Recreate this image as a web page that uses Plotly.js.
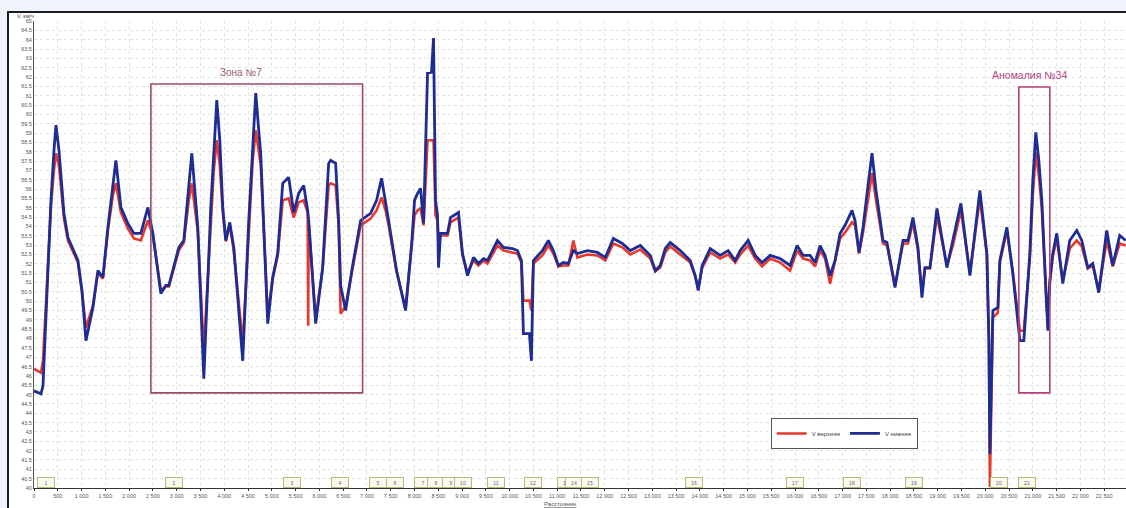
<!DOCTYPE html>
<html>
<head>
<meta charset="utf-8">
<script src="https://cdn.plot.ly/plotly-3.0.1.min.js"></script>
<style>
  html, body { margin:0; padding:0; width:1126px; height:508px; overflow:hidden; background:#eef4fa; }
  #frame { position:absolute; left:7px; top:11px; width:1119px; height:497px; background:#ffffff;
           border-left:2px solid #1a1a1a; border-top:2px solid #1a1a1a; }
  #chart { position:absolute; left:0; top:0; width:1118px; height:495px; }
</style>
</head>
<body>
<div id="frame"><div id="chart"></div></div>
<script>
// distance along route
const distance = [0,147,189,252,357,420,462,525,630,714,840,924,1008,1092,1239,1344,1449,1554,1659,1722,1827,1974,2100,2247,2394,2499,2667,2772,2835,2940,3045,3150,3255,3318,3444,3570,3717,3780,3843,3906,3969,4032,4116,4200,4389,4515,4599,4662,4725,4767,4914,5019,5124,5229,5355,5460,5565,5670,5754,5765,5775,5922,6069,6195,6237,6342,6405,6447,6552,6699,6867,7077,7203,7308,7392,7455,7623,7812,7938,8001,8064,8127,8190,8232,8274,8358,8400,8442,8484,8505,8547,8694,8757,8925,9009,9114,9240,9345,9450,9534,9744,9870,10059,10164,10248,10290,10416,10458,10500,10689,10815,10920,11025,11130,11235,11340,11424,11634,11844,12012,12180,12369,12537,12747,12957,13062,13167,13272,13377,13587,13797,13902,13965,14049,14217,14427,14595,14742,14847,15015,15162,15309,15477,15687,15897,16044,16170,16317,16422,16527,16632,16737,16842,16947,17052,17199,17262,17346,17430,17535,17619,17703,17850,17934,18102,18270,18375,18480,18585,18669,18732,18837,18984,19194,19320,19488,19677,19887,20034,20076,20097,20160,20265,20307,20454,20580,20727,20811,20937,21000,21063,21126,21189,21294,21315,21357,21420,21504,21630,21777,21924,22029,22155,22260,22386,22554,22680,22827,22953];

// V нижняя (blue)
const vLower = [45.20,45.04,45.47,49.50,55.40,58.08,59.42,58.08,54.70,53.41,52.71,52.18,50.57,47.89,49.66,51.64,51.27,53.95,56.20,57.54,55.02,54.16,53.63,53.63,55.02,53.63,50.41,50.84,50.84,51.80,52.88,53.25,55.93,57.92,53.95,45.85,55.02,58.08,60.76,58.62,55.02,53.25,54.22,52.88,46.81,54.32,58.62,61.14,59.15,57.92,48.80,51.27,52.55,56.31,56.63,54.75,55.77,56.20,54.86,54.59,54.32,48.80,51.80,57.38,57.54,57.38,54.32,50.84,49.50,51.91,54.32,54.70,55.40,56.58,55.13,54.32,51.64,49.50,52.98,55.40,55.77,56.04,54.16,58.08,62.21,62.26,64.09,55.40,54.59,51.80,53.63,53.63,54.48,54.75,52.55,51.37,52.34,52.02,52.28,52.18,53.25,52.88,52.82,52.71,52.18,48.26,48.26,46.81,52.18,52.71,53.25,52.71,51.91,52.07,52.02,52.71,52.55,52.71,52.61,52.34,53.36,53.09,52.71,52.98,52.45,51.64,51.91,52.82,53.14,52.71,52.18,51.37,50.57,51.91,52.82,52.45,52.71,52.18,52.71,53.25,52.45,52.07,52.45,52.28,51.91,52.98,52.45,52.45,52.07,52.98,52.45,51.37,52.18,53.63,54.06,54.86,54.32,52.61,53.95,56.20,57.92,55.93,53.25,53.14,50.73,53.25,53.25,54.48,52.88,50.19,51.80,51.80,54.97,51.80,53.25,55.24,51.37,55.93,52.55,47.89,41.82,49.50,49.66,52.18,53.95,51.48,47.89,47.89,52.55,56.47,59.04,57.54,55.40,49.33,48.42,51.10,52.55,53.63,50.94,53.25,53.79,53.25,51.80,52.02,50.46,53.79,51.91,53.52,53.25];

// V верхняя (red)
const vUpper = [46.38,46.17,46.81,50.03,55.13,57.01,57.92,57.27,54.43,53.25,52.55,52.07,50.52,48.58,49.76,51.53,51.21,53.79,55.67,56.31,54.75,53.89,53.36,53.25,54.32,53.52,50.57,50.79,50.79,51.75,52.71,53.14,55.40,56.31,53.68,47.35,54.59,57.01,58.62,57.27,54.75,53.20,54.06,52.71,47.72,54.06,57.54,59.15,58.08,57.27,49.33,51.21,52.45,55.40,55.50,54.48,55.29,55.40,54.75,48.69,54.22,49.07,51.75,56.20,56.31,56.20,54.06,49.33,49.76,51.86,54.06,54.43,54.86,55.56,54.86,54.06,51.59,49.60,52.82,54.59,54.86,54.97,54.06,56.47,58.62,58.62,58.62,54.59,54.32,53.25,53.52,53.52,54.22,54.48,52.45,51.53,52.18,51.91,52.18,52.02,52.98,52.71,52.61,52.55,52.07,50.03,50.03,49.50,52.02,52.45,52.98,52.55,51.86,51.91,51.91,53.25,52.34,52.50,52.45,52.18,53.09,52.88,52.50,52.77,52.28,51.59,51.80,52.61,52.93,52.50,52.07,51.32,50.68,51.80,52.61,52.28,52.50,52.07,52.50,52.98,52.28,51.86,52.28,52.07,51.64,52.71,52.28,52.18,51.86,52.71,52.28,50.94,52.07,53.36,53.68,54.22,54.06,52.55,53.68,55.40,56.85,55.40,53.09,52.98,50.84,53.09,53.09,54.22,52.71,50.41,51.75,51.75,54.59,51.91,52.98,54.86,51.53,55.50,52.45,47.89,40.05,49.12,49.39,52.07,53.79,51.53,48.42,48.42,52.28,55.67,57.97,56.74,54.97,49.50,49.39,50.94,52.39,53.36,51.10,52.82,53.25,52.93,51.75,51.91,50.57,53.25,51.86,53.09,52.98];

// event markers along the route
const eventKm = [60,2750,5230,6240,7040,7410,7980,8270,8570,8840,9530,10310,11000,11170,11490,13690,15810,17010,18310,20100,20690];
const eventLabels = ["1","2","3","4","5","6","7","8","9","10","11","12","13","14","15","16","17","18","19","20","21"];

const seriesNames = ["V верхняя", "V нижняя"];
const zoneLabel = "Зона №7";
const anomalyLabel = "Аномалия №34";
const unitLabel = "V, км/ч";
const xLabel = "Расстояние";

const FONT = "Liberation Sans, Arial, sans-serif";

const traces = [
  { x: distance, y: vUpper, name: seriesNames[0], type: "scatter", mode: "lines",
    line: { color: "#e8372c", width: 2.6 } },
  { x: distance, y: vLower, name: seriesNames[1], type: "scatter", mode: "lines",
    line: { color: "#1e2d93", width: 2.8 } }
];

const annotations = [
  { x: 4347, y: 62.27, xref: "x", yref: "y", text: zoneLabel, showarrow: false,
    font: { family: FONT, size: 10, color: "#9a5a7a" } },
  { x: 20937, y: 62.11, xref: "x", yref: "y", text: anomalyLabel, showarrow: false,
    font: { family: FONT, size: 10.5, color: "#b0457f" } },
  { x: 0.0, y: 1.0, xref: "paper", yref: "paper", text: unitLabel, showarrow: false,
    xanchor: "right", yanchor: "bottom", xshift: 2, yshift: 0,
    font: { family: FONT, size: 5.5, color: "#444" } },
  { x: 0.482, y: -0.034, xref: "paper", yref: "paper", text: xLabel, showarrow: false,
    yanchor: "middle", font: { family: FONT, size: 6, color: "#555", lineposition: "under" } }
];
eventKm.forEach((km, i) => {
  annotations.push({ x: km, y: 40, xref: "x", yref: "y", yanchor: "bottom", xanchor: "left",
    text: eventLabels[i], showarrow: false, bgcolor: "#fafaf0", bordercolor: "#b9b97a",
    borderwidth: 1, borderpad: 1, width: 14, height: 7,
    font: { family: FONT, size: 5, color: "#666" } });
});

const shapes = [
  { type: "rect", xref: "x", yref: "y", x0: 2457, x1: 6909, y0: 45.09, y1: 61.63,
    line: { color: "#9b4a68", width: 1.6 } },
  { type: "rect", xref: "x", yref: "y", x0: 20706, x1: 21357, y0: 45.09, y1: 61.47,
    line: { color: "#b0407a", width: 1.6 } }
];

const layout = {
  width: 1118, height: 495,
  margin: { l: 25, r: 0, t: 8, b: 20 },
  paper_bgcolor: "#ffffff", plot_bgcolor: "#ffffff",
  separators: ". ",
  font: { family: FONT, size: 6, color: "#555" },
  showlegend: true,
  legend: { orientation: "h", x: 0.674, y: 0.15, xanchor: "left", yanchor: "top",
    bgcolor: "#ffffff", bordercolor: "#555", borderwidth: 1,
    font: { family: FONT, size: 6, color: "#444" }, itemwidth: 30 },
  xaxis: { range: [0, 22980], dtick: 500, tick0: 0, tickformat: ",d",
    showgrid: true, gridcolor: "#e2e2e2", griddash: "dot", gridwidth: 1,
    showline: true, linecolor: "#333", linewidth: 1, ticks: "outside", ticklen: 2, tickcolor: "#333",
    zeroline: false, tickfont: { size: 5.5, color: "#555" } },
  yaxis: { range: [40, 65], dtick: 0.5, tick0: 40,
    showgrid: true, gridcolor: "#e2e2e2", griddash: "dot", gridwidth: 1,
    showline: true, linecolor: "#555", linewidth: 1, ticks: "", zeroline: false,
    tickfont: { size: 5.5, color: "#555" } },
  annotations: annotations,
  shapes: shapes
};

Plotly.newPlot("chart", traces, layout, { staticPlot: true, displayModeBar: false });
</script>
</body>
</html>
